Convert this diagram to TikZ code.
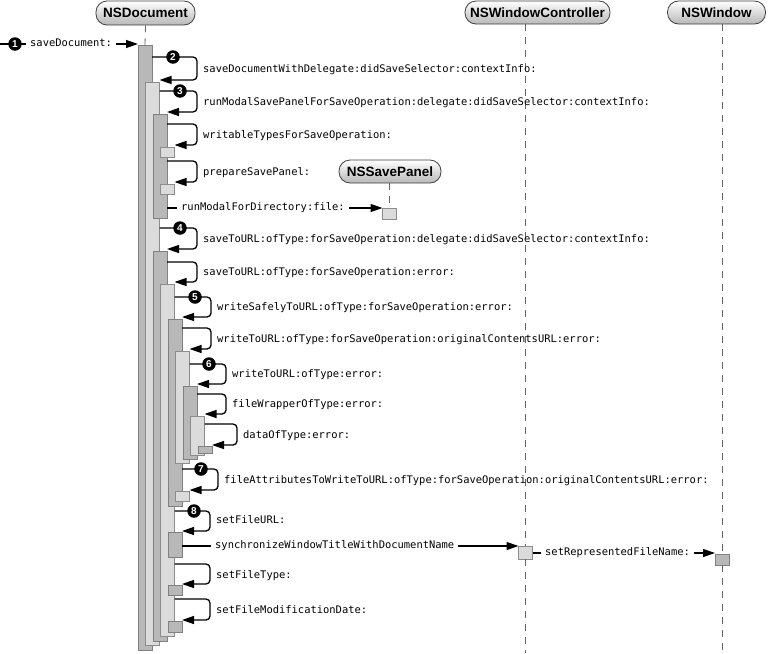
\documentclass[tikz,border=0pt]{standalone}
\usepackage{fontspec}
\usetikzlibrary{arrows.meta}
\newfontfamily\monofont{DejaVu Sans Mono}
\newfontfamily\hdrfont{Liberation Sans}
\begin{document}
\begin{tikzpicture}[x=1pt,y=-1pt,
  dkbar/.style={draw=black!50, fill=black!28, line width=0.7pt, minimum width=14pt, inner sep=0pt, outer sep=0pt, anchor=north west},
  ltbar/.style={draw=black!45, fill=black!14, line width=0.7pt, minimum width=14pt, inner sep=0pt, outer sep=0pt, anchor=north west},
  msg/.style={draw=black, line width=1.3pt, -{Triangle[length=12pt,width=8pt]}},
  selfmsg/.style={msg, rounded corners=4pt},
  lbl/.style={font=\monofont\fontsize{10.45}{12}\selectfont, anchor=west, inner sep=0pt, text height=7.5pt, text depth=2pt},
  wlbl/.style={lbl, fill=white, inner xsep=4pt},
  num/.style={circle, fill=black, text=white, font=\hdrfont\bfseries\fontsize{10}{10}\selectfont, minimum size=13.5pt, inner sep=0pt},
  hdr/.style={draw=black!75, line width=0.8pt, rounded corners=11pt, top color=white, bottom color=black!28, font=\hdrfont\bfseries\fontsize{13.5}{14}\selectfont, inner sep=0pt, minimum height=23pt},
  life/.style={draw=black!60, line width=0.8pt, dash pattern=on 7pt off 6pt}]
\useasboundingbox (0,0) rectangle (768,653);

% headers
\node[hdr, minimum width=99pt, minimum height=24pt] (hDoc) at (145.5,13) {NSDocument};
\node[hdr, minimum width=102pt] (hPanel) at (390,171.5) {NSSavePanel};
\node[hdr, minimum width=145pt] (hWC) at (537.5,12.5) {NSWindowController};
\node[hdr, minimum width=98pt] (hWin) at (716.5,12.5) {NSWindow};

% activation bars
\node[dkbar, minimum height=605pt] (B1) at (138,45) {};
\node[ltbar, minimum height=563pt] (B2) at (145.5,82) {};
\node[dkbar, minimum height=104pt] (B3) at (153,114) {};
\node[ltbar, minimum height=10pt] (sW) at (160.5,147) {};
\node[ltbar, minimum height=10pt] (sP) at (160.5,184) {};
\node[dkbar, minimum height=390pt] (B4) at (153,251) {};
\node[ltbar, minimum height=352pt] (B5) at (160.5,284) {};
\node[dkbar, minimum height=187pt] (B6) at (168,319) {};
\node[ltbar, minimum height=112pt] (B7) at (175.5,351) {};
\node[dkbar, minimum height=73pt] (B8) at (183,386) {};
\node[ltbar, minimum height=39pt] (B9) at (190.5,416) {};
\node[dkbar, minimum height=7pt] (sD) at (198,446) {};
\node[ltbar, minimum height=10pt] (sA) at (175.5,491) {};
\node[dkbar, minimum height=25pt] (BF) at (168,532) {};
\node[dkbar, minimum height=10pt] (sT) at (168,585) {};
\node[dkbar, minimum height=11pt] (sM) at (168,621) {};
\node[ltbar, minimum height=11pt] (P) at (382.5,208) {};
\node[ltbar, minimum height=13pt] (C) at (518.5,546) {};
\node[dkbar, minimum height=11pt] (W) at (715,554) {};

% lifelines
\draw[life] (hDoc.south) -- (B1.north);
\draw[life] (P.north |- hPanel.south) -- (P.north);
\draw[life] (C.north |- hWC.south) -- (C.north);
\draw[life] (C.south) -- (C.south |- 0,653);
\draw[life] (W.north |- hWin.south) -- (W.north);
\draw[life] (W.south) -- (W.south |- 0,653);

% 1 saveDocument
\coordinate (start) at (0,44);
\draw[msg] (start) -- (B1.west |- 0,44);
\node[wlbl] at (26,44) {saveDocument:};
\node[num] at (15,44) {1};

% self calls
\draw[selfmsg] (B1.east |- 0,57) -- (197,57) -- (197,80) -- (B2.east |- 0,80);
\node[num] at (173,57) {2};
\node[lbl] at (203,69.5) {saveDocumentWithDelegate:didSaveSelector:contextInfo:};

\draw[selfmsg] (B2.east |- 0,91) -- (197,91) -- (197,112) -- (B3.east |- 0,112);
\node[num] at (180,91) {3};
\node[lbl] at (203,102.5) {runModalSavePanelForSaveOperation:delegate:didSaveSelector:contextInfo:};

\draw[selfmsg] (B3.east |- 0,124) -- (197,124) -- (197,145) -- (sW.east |- 0,145);
\node[lbl] at (203,135.5) {writableTypesForSaveOperation:};

\draw[selfmsg] (B3.east |- 0,161) -- (197,161) -- (197,182) -- (sP.east |- 0,182);
\node[lbl] at (203,172.5) {prepareSavePanel:};

\draw[msg] (B3.east |- 0,208) -- (P.west |- 0,208);
\node[wlbl] at (177,208) {runModalForDirectory:file:};

\draw[selfmsg] (B2.east |- 0,228) -- (197,228) -- (197,249) -- (B4.east |- 0,249);
\node[num] at (180,228) {4};
\node[lbl] at (203,239.5) {saveToURL:ofType:forSaveOperation:delegate:didSaveSelector:contextInfo:};

\draw[selfmsg] (B4.east |- 0,262) -- (197,262) -- (197,282) -- (B5.east |- 0,282);
\node[lbl] at (203,273) {saveToURL:ofType:forSaveOperation:error:};

\draw[selfmsg] (B5.east |- 0,297) -- (211,297) -- (211,317) -- (B6.east |- 0,317);
\node[num] at (195,297) {5};
\node[lbl] at (217,308) {writeSafelyToURL:ofType:forSaveOperation:error:};

\draw[selfmsg] (B6.east |- 0,328) -- (211,328) -- (211,349) -- (B7.east |- 0,349);
\node[lbl] at (217,339.5) {writeToURL:ofType:forSaveOperation:originalContentsURL:error:};

\draw[selfmsg] (B7.east |- 0,364) -- (226,364) -- (226,384) -- (B8.east |- 0,384);
\node[num] at (209,364) {6};
\node[lbl] at (232,374.5) {writeToURL:ofType:error:};

\draw[selfmsg] (B8.east |- 0,394) -- (226,394) -- (226,414) -- (B9.east |- 0,414);
\node[lbl] at (232,405) {fileWrapperOfType:error:};

\draw[selfmsg] (B9.east |- 0,424) -- (237,424) -- (237,445) -- (sD.east |- 0,445);
\node[lbl] at (243,435.5) {dataOfType:error:};

\draw[selfmsg] (B6.east |- 0,469) -- (218,469) -- (218,490) -- (sA.east |- 0,490);
\node[num] at (201,469) {7};
\node[lbl] at (224,480.5) {fileAttributesToWriteToURL:ofType:forSaveOperation:originalContentsURL:error:};

\draw[selfmsg] (B5.east |- 0,511) -- (210,511) -- (210,531) -- (BF.east |- 0,531);
\node[num] at (194,511) {8};
\node[lbl] at (216,520.5) {setFileURL:};

\draw[msg] (BF.east |- 0,546) -- (C.west |- 0,546);
\node[wlbl] at (211,546) {synchronizeWindowTitleWithDocumentName};

\draw[msg] (C.east |- 0,553) -- (W.west |- 0,553);
\node[wlbl] at (541,553) {setRepresentedFileName:};

\draw[selfmsg] (B5.east |- 0,564) -- (210,564) -- (210,584) -- (sT.east |- 0,584);
\node[lbl] at (216,575.5) {setFileType:};

\draw[selfmsg] (B5.east |- 0,599) -- (210,599) -- (210,620) -- (sM.east |- 0,620);
\node[lbl] at (216,610.5) {setFileModificationDate:};
\end{tikzpicture}
\end{document}
